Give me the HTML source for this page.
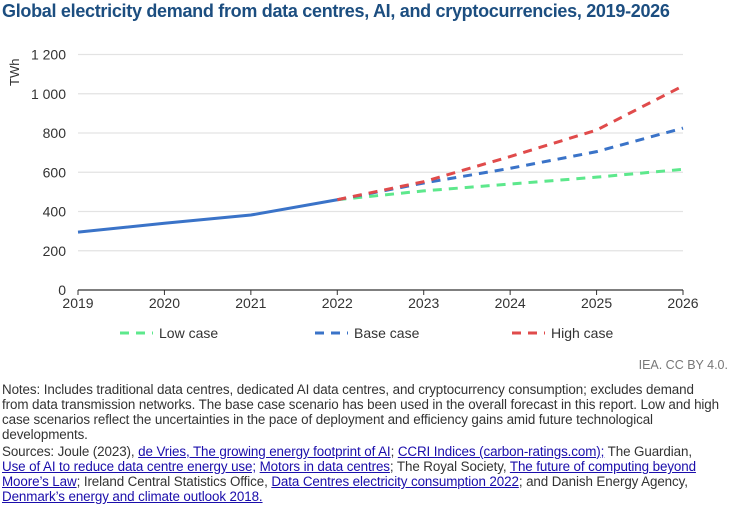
<!DOCTYPE html>
<html><head><meta charset="utf-8"><style>
body{margin:0;width:737px;height:515px;background:#fff;font-family:"Liberation Sans",sans-serif;overflow:hidden;position:relative}
.t{position:absolute;left:2px;top:1px;font-size:18px;font-weight:bold;color:#1c4e80;letter-spacing:-0.3px;white-space:nowrap}
.src{position:absolute;right:9px;top:358px;font-size:12.5px;color:#777}
.notes{position:absolute;left:2px;top:382px;width:760px;font-size:13.4px;line-height:15px;color:#333;letter-spacing:-0.1px}
.notes div{white-space:nowrap}
.gap{height:2px}
a{color:#1a0dab;text-decoration:underline}
</style></head><body>
<div class="t">Global electricity demand from data centres, AI, and cryptocurrencies, 2019-2026</div>
<svg id="c" width="737" height="350" style="position:absolute;left:0;top:0"></svg>
<div class="src">IEA. CC BY 4.0.</div>
<div class="notes">
<div>Notes: Includes traditional data centres, dedicated AI data centres, and cryptocurrency consumption; excludes demand</div>
<div>from data transmission networks. The base case scenario has been used in the overall forecast in this report. Low and high</div>
<div>case scenarios reflect the uncertainties in the pace of deployment and efficiency gains amid future technological</div>
<div>developments.</div>
<div class="gap"></div>
<div>Sources: Joule (2023), <a>de Vries, The growing energy footprint of AI</a>; <a>CCRI Indices (carbon-ratings.com);</a> The Guardian,</div>
<div><a>Use of AI to reduce data centre energy use;</a> <a>Motors in data centres</a>; The Royal Society, <a>The future of computing beyond</a></div>
<div><a>Moore’s Law</a>; Ireland Central Statistics Office, <a>Data Centres electricity consumption 2022</a>; and Danish Energy Agency,</div>
<div><a>Denmark’s energy and climate outlook 2018.</a></div>
</div>
<script>
const years=[2019,2020,2021,2022,2023,2024,2025,2026];
const histYears=[2019,2020,2021,2022];
const histValues=[295,340,382,460];
const projYears=[2022,2023,2024,2025,2026];
const lowValues=[460,505,540,575,615];
const baseValues=[460,545,620,705,825];
const highValues=[460,552,680,815,1040];
const yTicks=[0,200,400,600,800,1000,1200];
const yTickLabels=["0","200","400","600","800","1 000","1 200"];
const NS="http://www.w3.org/2000/svg";
const svg=document.getElementById('c');
const X=y=>78+(y-2019)*(683-78)/7;
const Y=v=>290-v*(290-54.5)/1200;
function el(t,a){const e=document.createElementNS(NS,t);for(const k in a)e.setAttribute(k,a[k]);svg.appendChild(e);return e;}
yTicks.forEach((v,i)=>{
 if(v>0){const g=el('line',{x1:78,x2:683,y1:Y(v),y2:Y(v),stroke:'#e3e3e3','stroke-width':1.3});
 
 }
 const t=el('text',{x:66,y:Y(v)+5,'text-anchor':'end','font-size':14,fill:'#333'});
 t.textContent=yTickLabels[i];
 
 
});
const ax=el('line',{x1:78,x2:683,y1:290,y2:290,stroke:'#333','stroke-width':1.3});


years.forEach(y=>{
 el('line',{x1:X(y),x2:X(y),y1:290,y2:295,stroke:'#333','stroke-width':1});
 const t=el('text',{x:X(y),y:308,'text-anchor':'middle','font-size':14,fill:'#333'});
 t.textContent=y;
 
 
});
const yt=el('text',{x:0,y:0,transform:'translate(19,86) rotate(-90)','font-size':13,fill:'#333'});
yt.textContent='TWh';


function line(xs,vs,col,dash,name){
 const p=el('polyline',{points:xs.map((y,i)=>X(y)+','+Y(vs[i])).join(' '),fill:'none',stroke:col,'stroke-width':3,'stroke-dasharray':dash||'none'});
 
 
}
line(projYears,lowValues,'#5de88c','9 7','low-case-line');
line(projYears,baseValues,'#3a73c8','9 7','base-case-line');
line(projYears,highValues,'#e04b4b','9 7','high-case-line');
line(histYears,histValues,'#3a73c8',null,'historical-line');
[['Low case','#5de88c',120],['Base case','#3a73c8',315],['High case','#e04b4b',512]].forEach(([n,c,x])=>{
 el('line',{x1:x,x2:x+33,y1:333,y2:333,stroke:c,'stroke-width':3,'stroke-dasharray':'9 7'});
 const t=el('text',{x:x+39,y:338,'font-size':14,fill:'#333'});
 t.textContent=n;
 
 
});
</script>
</body></html>
